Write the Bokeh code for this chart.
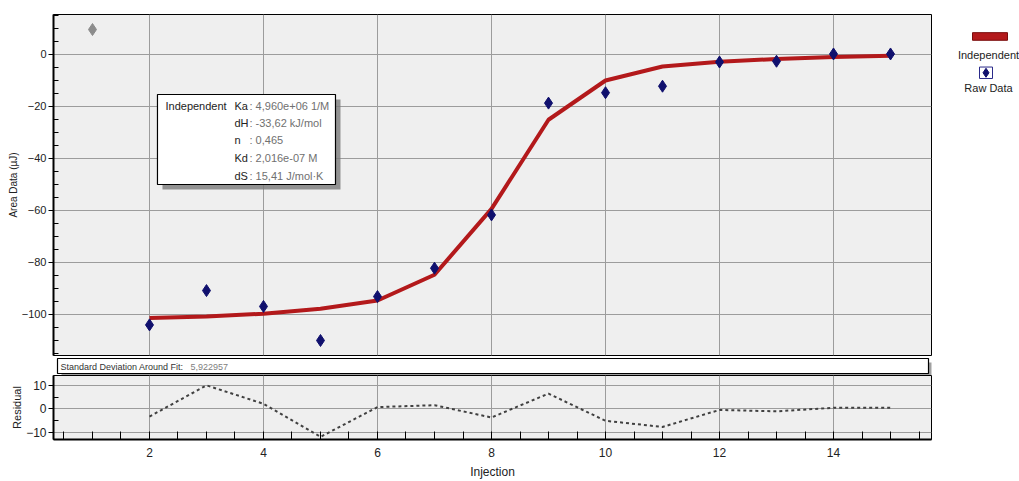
from bokeh.plotting import figure
from bokeh.layouts import column, row
from bokeh.models import Range1d, FixedTicker, Label
from bokeh.core.properties import value
from bokeh.embed import file_html
from bokeh.resources import INLINE

# ---------------- data ----------------
injection = [2, 3, 4, 5, 6, 7, 8, 9, 10, 11, 12, 13, 14, 15]
raw_data = [-104.0, -90.8, -96.9, -110.0, -93.1, -82.2, -61.7, -18.7, -14.7, -12.2, -2.9, -2.6, 0.2, 0.2]
fit_independent = [-101.3, -100.8, -99.7, -97.8, -94.6, -84.7, -59.4, -25.1, -10.0, -4.6, -2.8, -1.7, -1.0, -0.5]
residual = [-3.2, 10.0, 2.2, -11.8, 0.8, 1.6, -3.6, 6.5, -5.0, -7.6, -0.4, -1.0, 0.5, 0.5]
excluded_x = [1]
excluded_y = [9.6]

model_name = "Independent"
stat_names = ["Ka", "dH", "n", "Kd", "dS"]
stat_values = ["4,960e+06 1/M", "-33,62 kJ/mol", "0,465", "2,016e-07 M", "15,41 J/mol\u00b7K"]
sd_label = "Standard Deviation Around Fit:"
sd_value = "5,922957"

x_major = [2, 4, 6, 8, 10, 12, 14]
y_major = [-100, -80, -60, -40, -20, 0]
res_major = [-10, 0, 10]

FONT = "Liberation Sans"
BG = "#efefef"
GRID = "#9c9c9c"
RED = "#b3191b"
NAVY = "#10106e"

X0, X1 = 0.316, 15.719

# ---------------- main panel ----------------
p = figure(width=940, height=357, output_backend="svg", toolbar_location=None,
           x_range=Range1d(X0, X1), y_range=Range1d(-115.77, 15.38),
           min_border_left=53, min_border_right=9, min_border_top=14, min_border_bottom=2)
p.background_fill_color = BG
p.border_fill_color = "white"
p.outline_line_color = "black"
p.outline_line_width = 1
p.xaxis.visible = False
p.xgrid.ticker = FixedTicker(ticks=x_major)
p.ygrid.ticker = FixedTicker(ticks=y_major)
for g in (p.xgrid, p.ygrid):
    g.grid_line_color = GRID
    g.grid_line_width = 1
yax = p.yaxis[0]
yax.ticker = FixedTicker(ticks=y_major,
                         minor_ticks=[v for v in range(-115, 16, 5) if v % 20 != 0])
yax.axis_line_width = 2
yax.axis_line_color = "black"
yax.major_tick_out = 5
yax.major_tick_in = 0
yax.minor_tick_out = 0
yax.minor_tick_in = 5
yax.major_tick_line_color = "black"
yax.minor_tick_line_color = "black"
yax.major_label_standoff = 2
yax.major_label_text_font = FONT
yax.major_label_text_font_size = "11px"
yax.major_label_text_color = "#222222"
yax.axis_label = "Area Data (\u00b5J)"
yax.axis_label_text_font = FONT
yax.axis_label_text_font_size = "10px"
yax.axis_label_text_font_style = "normal"
yax.axis_label_text_color = "#222222"
yax.axis_label_standoff = 0

# stats box (shadow + box)
bx_l, bx_r, bx_t, bx_b = 2.140, 5.263, -15.38, -50.0
dx, dy = 5 / 57.0, 5 / 2.6
p.quad(left=bx_l + dx, right=bx_r + dx, top=bx_t - dy, bottom=bx_b - dy,
       fill_color="#7a7a7a", line_color=None, fill_alpha=0.8)
p.quad(left=bx_l, right=bx_r, top=bx_t, bottom=bx_b,
       fill_color="white", line_color="black", line_width=1.2)
p.add_layout(Label(x=bx_l, y=bx_t, x_offset=8, y_offset=-12, text=model_name,
                   text_font=FONT, text_font_size="11px", text_color="#222222",
                   text_baseline="middle"))
row_off = [12, 29, 46, 64, 82]
for nm, val, off in zip(stat_names, stat_values, row_off):
    p.add_layout(Label(x=bx_l, y=bx_t, x_offset=77, y_offset=-off, text=nm,
                       text_font=FONT, text_font_size="11px", text_color="#222222",
                       text_baseline="middle"))
    p.add_layout(Label(x=bx_l, y=bx_t, x_offset=92, y_offset=-off, text=": " + val,
                       text_font=FONT, text_font_size="11px", text_color="#707070",
                       text_baseline="middle"))

p.line(injection, fit_independent, line_color=RED, line_width=4)
p.scatter(injection, raw_data, marker="diamond", size=12, fill_color=NAVY, line_color=NAVY)
p.scatter(excluded_x, excluded_y, marker="diamond", size=12, fill_color="#8c8c8c", line_color="#8c8c8c")

# ---------------- legend panel ----------------
lg = figure(width=79, height=357, output_backend="svg", toolbar_location=None,
            x_range=Range1d(0, 79), y_range=Range1d(357, 0),
            x_axis_type=None, y_axis_type=None,
            min_border=0, min_border_left=0, min_border_right=0, min_border_top=0, min_border_bottom=0)
lg.outline_line_color = None
lg.background_fill_color = "white"
lg.border_fill_color = "white"
lg.xgrid.visible = False
lg.ygrid.visible = False
lg.quad(left=32, right=67, top=19, bottom=27, fill_color=RED, line_color="#7a0c0c")
lg.text(x=[48], y=[42], text=[model_name], text_font=value(FONT), text_font_size="11px",
        text_align="center", text_baseline="middle", text_color="#222222")
lg.quad(left=39, right=52, top=55, bottom=67, fill_color="white", line_color="#2a2a8a", line_width=1)
lg.scatter(x=[45.5], y=[61], marker="diamond", size=9, fill_color=NAVY, line_color=NAVY)
lg.text(x=[48], y=[77], text=["Raw Data"], text_font=value(FONT), text_font_size="11px",
        text_align="center", text_baseline="middle", text_color="#222222")

# ---------------- SD strip (window pixel coordinates) ----------------
sd = figure(width=1019, height=18, output_backend="svg", toolbar_location=None,
            x_range=Range1d(53, 931), y_range=Range1d(18, 0),
            x_axis_type=None, y_axis_type=None,
            min_border_left=53, min_border_right=88, min_border_top=0, min_border_bottom=0)
sd.outline_line_color = None
sd.background_fill_color = "white"
sd.border_fill_color = "white"
sd.xgrid.visible = False
sd.ygrid.visible = False
sd.quad(left=61, right=932, top=5, bottom=18, fill_color="#8a8a8a", line_color=None, fill_alpha=0.8)
sd.quad(left=57, right=928, top=1, bottom=16, fill_color="white", line_color="black", line_width=1.2)
sd.text(x=[60], y=[9], text=[sd_label], text_font=value(FONT), text_font_size="9px",
        text_baseline="middle", text_color="#333333")
sd.text(x=[190], y=[9], text=[sd_value], text_font=value(FONT), text_font_size="9px",
        text_baseline="middle", text_color="#808080")

# ---------------- residual panel ----------------
r = figure(width=1019, height=106, output_backend="svg", toolbar_location=None,
           x_range=Range1d(X0, X1), y_range=Range1d(-12.92, 14.17),
           min_border_left=53, min_border_right=88, min_border_top=0, min_border_bottom=41)
r.background_fill_color = BG
r.border_fill_color = "white"
r.outline_line_color = "black"
r.xgrid.ticker = FixedTicker(ticks=x_major)
r.ygrid.ticker = FixedTicker(ticks=res_major)
for g in (r.xgrid, r.ygrid):
    g.grid_line_color = GRID
    g.grid_line_width = 1
rx = r.xaxis[0]
rx.ticker = FixedTicker(ticks=x_major, minor_ticks=[v / 2 for v in range(1, 32) if v % 4 != 0])
rx.axis_line_width = 2
rx.major_tick_in = 8
rx.major_tick_out = 0
rx.minor_tick_in = 8
rx.minor_tick_out = 0
rx.major_tick_line_color = "black"
rx.minor_tick_line_color = "black"
rx.major_label_standoff = 8
rx.major_label_text_font = FONT
rx.major_label_text_font_size = "12px"
rx.major_label_text_color = "#222222"
rx.axis_label = "Injection"
rx.axis_label_text_font = FONT
rx.axis_label_text_font_size = "12px"
rx.axis_label_text_font_style = "normal"
rx.axis_label_text_color = "#222222"
rx.axis_label_standoff = 5
ry = r.yaxis[0]
ry.ticker = FixedTicker(ticks=res_major, minor_ticks=[-5, 5])
ry.axis_line_width = 2
ry.major_tick_out = 5
ry.major_tick_in = 0
ry.minor_tick_out = 0
ry.minor_tick_in = 5
ry.major_tick_line_color = "black"
ry.minor_tick_line_color = "black"
ry.major_label_standoff = 2
ry.major_label_text_font = FONT
ry.major_label_text_font_size = "12px"
ry.major_label_text_color = "#222222"
ry.axis_label = "Residual"
ry.axis_label_text_font = FONT
ry.axis_label_text_font_size = "11px"
ry.axis_label_text_font_style = "normal"
ry.axis_label_text_color = "#222222"
ry.axis_label_standoff = 0

r.line(injection, residual, line_color="#404040", line_width=2, line_dash="3 3")

layout = column(row(p, lg), sd, r)
open("out.html", "w").write(file_html(layout, INLINE))
